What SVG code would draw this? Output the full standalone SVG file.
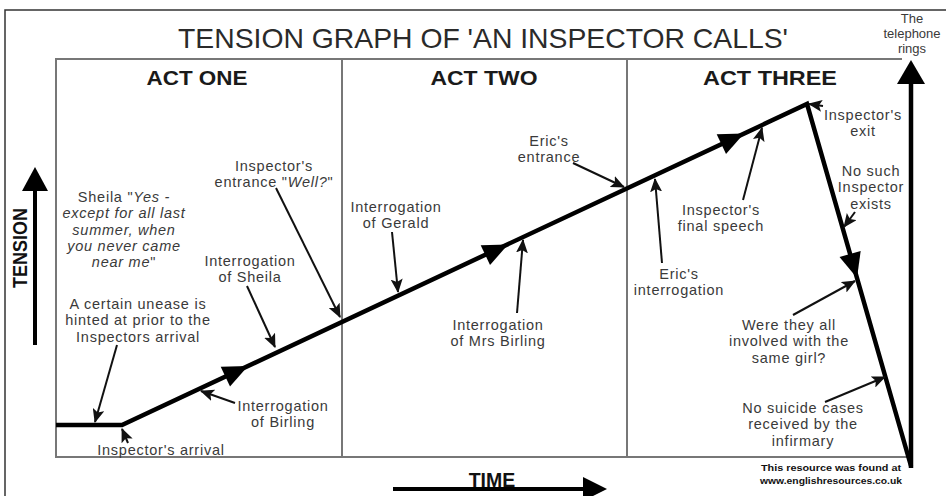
<svg xmlns="http://www.w3.org/2000/svg" width="946" height="496" viewBox="0 0 946 496">
<style>
.lbl{font-family:"Liberation Sans",Arial,sans-serif;font-size:14.5px;letter-spacing:0.75px;fill:#3a3a3a;text-anchor:middle}
.tel{font-family:"Liberation Sans",Arial,sans-serif;font-size:13px;fill:#3a3a3a;text-anchor:middle}
.it{font-style:italic}
.act{font-family:"Liberation Sans",Arial,sans-serif;font-size:21px;font-weight:bold;fill:#1a1a1a;text-anchor:middle}
.frame{fill:none;stroke:#777;stroke-width:2}
.main{fill:none;stroke:#000;stroke-width:4.5;stroke-linejoin:miter}
.ptr{fill:none;stroke:#111;stroke-width:2;marker-end:url(#ah)}
.head{fill:#000}
</style>
<defs>
<marker id="ah" markerUnits="userSpaceOnUse" markerWidth="14" markerHeight="12" viewBox="0 0 14 12" refX="13" refY="6" orient="auto">
<path d="M0,0 L14,6 L0,12 L3,6 Z" fill="#111"/>
</marker>
<path id="tri" d="M0,0 L-25,-11 L-25,11 Z"/>
</defs>
<rect width="946" height="496" fill="#fff"/>
<g id="outer-frame">
<rect x="5" y="10" width="960" height="500" fill="none" stroke="#333" stroke-width="1.5"/>
</g>
<g id="title">
<text x="483" y="48" font-family="'Liberation Sans',Arial,sans-serif" font-size="28" fill="#2a2a2a" text-anchor="middle" textLength="610" lengthAdjust="spacingAndGlyphs">TENSION GRAPH OF 'AN INSPECTOR CALLS'</text>
</g>
<g id="grid">
<path class="frame" d="M902,59 H56 V457 H911"/>
<line class="frame" x1="342" y1="59" x2="342" y2="457"/>
<line class="frame" x1="627" y1="59" x2="627" y2="457"/>
</g>
<g id="act-labels">
<text class="act" x="197" y="85" textLength="101" lengthAdjust="spacingAndGlyphs">ACT ONE</text>
<text class="act" x="484" y="85" textLength="107" lengthAdjust="spacingAndGlyphs">ACT TWO</text>
<text class="act" x="770" y="85" textLength="134" lengthAdjust="spacingAndGlyphs">ACT THREE</text>
</g>
<g id="tension-axis">
<line x1="35" y1="345" x2="35" y2="186" stroke="#000" stroke-width="4"/>
<path class="head" d="M35,167 L48,191 L22,191 Z"/>
<text transform="translate(27,248) rotate(-90)" font-family="'Liberation Sans',Arial,sans-serif" font-size="20" font-weight="bold" fill="#111" text-anchor="middle" textLength="80" lengthAdjust="spacingAndGlyphs">TENSION</text>
</g>
<g id="time-axis">
<line x1="393" y1="489" x2="586" y2="489" stroke="#000" stroke-width="4"/>
<path class="head" d="M607,489 L583,477 L583,501 Z"/>
<text x="492" y="487" font-family="'Liberation Sans',Arial,sans-serif" font-size="19.5" font-weight="bold" fill="#111" text-anchor="middle">TIME</text>
</g>
<g id="telephone">
<line x1="911" y1="468" x2="911" y2="80" stroke="#000" stroke-width="4.5"/>
<path class="head" d="M911,60 L925,84 L897,84 Z"/>
<text class="tel" x="912" y="23">The<tspan x="912" dy="15">telephone</tspan><tspan x="912" dy="15">rings</tspan></text>
</g>
<g id="tension-line">
<polyline class="main" points="56,425 122,425 807,104 911,466"/>
<use href="#tri" transform="translate(248,366) rotate(-25.1)"/>
<use href="#tri" transform="translate(508,244.5) rotate(-25.1)"/>
<use href="#tri" transform="translate(744,133.5) rotate(-25.1)"/>
<use href="#tri" transform="translate(857,278) rotate(74)"/>
</g>
<g id="connectors">
<line class="ptr" x1="117" y1="345" x2="95" y2="422"/>
<line class="ptr" x1="276" y1="188" x2="340" y2="317"/>
<line class="ptr" x1="247" y1="286" x2="275" y2="347"/>
<line class="ptr" x1="235" y1="403" x2="201" y2="391"/>
<line class="ptr" x1="128" y1="443" x2="122" y2="429"/>
<line class="ptr" x1="392" y1="232" x2="398" y2="292"/>
<line class="ptr" x1="517" y1="313" x2="523" y2="240"/>
<line class="ptr" x1="573" y1="163" x2="624" y2="187"/>
<line class="ptr" x1="662" y1="263" x2="655" y2="179"/>
<line class="ptr" x1="743" y1="200" x2="762" y2="128"/>
<line class="ptr" x1="823" y1="106" x2="809" y2="104"/>
<line class="ptr" x1="855" y1="212" x2="844" y2="227"/>
<line class="ptr" x1="793" y1="315" x2="855" y2="281"/>
<line class="ptr" x1="825" y1="402" x2="885" y2="377"/>
</g>
<g id="label-unease">
<text class="lbl" x="138" y="309">A certain unease is<tspan x="138" dy="16.3">hinted at prior to the</tspan><tspan x="138" dy="16.3">Inspectors arrival</tspan></text>
</g>
<g id="label-sheila-quote">
<text class="lbl" x="124" y="202">Sheila "<tspan class="it">Yes -</tspan><tspan class="it" x="124" dy="16.3">except for all last</tspan><tspan class="it" x="124" dy="16.3">summer, when</tspan><tspan class="it" x="124" dy="16.3">you never came</tspan><tspan x="124" dy="16.3"><tspan class="it">near me</tspan>"</tspan></text>
</g>
<g id="label-entrance">
<text class="lbl" x="274" y="171">Inspector's<tspan x="274" dy="16.3">entrance "<tspan class="it">Well?</tspan>"</tspan></text>
</g>
<g id="label-int-sheila">
<text class="lbl" x="250" y="266">Interrogation<tspan x="250" dy="16.3">of Sheila</tspan></text>
</g>
<g id="label-int-birling">
<text class="lbl" x="283" y="411">Interrogation<tspan x="283" dy="16.3">of Birling</tspan></text>
</g>
<g id="label-arrival">
<text class="lbl" x="161" y="455">Inspector's arrival</text>
</g>
<g id="label-int-gerald">
<text class="lbl" x="396" y="212">Interrogation<tspan x="396" dy="16.3">of Gerald</tspan></text>
</g>
<g id="label-int-mrs-birling">
<text class="lbl" x="498" y="330">Interrogation<tspan x="498" dy="16.3">of Mrs Birling</tspan></text>
</g>
<g id="label-eric-entrance">
<text class="lbl" x="549" y="146">Eric's<tspan x="549" dy="16.3">entrance</tspan></text>
</g>
<g id="label-eric-int">
<text class="lbl" x="679" y="279">Eric's<tspan x="679" dy="16.3">interrogation</tspan></text>
</g>
<g id="label-final-speech">
<text class="lbl" x="721" y="215">Inspector's<tspan x="721" dy="16.3">final speech</tspan></text>
</g>
<g id="label-exit">
<text class="lbl" x="863" y="120">Inspector's<tspan x="863" dy="16.3">exit</tspan></text>
</g>
<g id="label-no-inspector">
<text class="lbl" x="871" y="176">No such<tspan x="871" dy="16.3">Inspector</tspan><tspan x="871" dy="16.3">exists</tspan></text>
</g>
<g id="label-same-girl">
<text class="lbl" x="789" y="330">Were they all<tspan x="789" dy="16.3">involved with the</tspan><tspan x="789" dy="16.3">same girl?</tspan></text>
</g>
<g id="label-suicide">
<text class="lbl" x="803" y="413">No suicide cases<tspan x="803" dy="16.3">received by the</tspan><tspan x="803" dy="16.3">infirmary</tspan></text>
</g>
<g id="credit">
<text x="831" y="471" font-family="'Liberation Sans',Arial,sans-serif" font-size="9" font-weight="bold" fill="#111" text-anchor="middle" textLength="140" lengthAdjust="spacingAndGlyphs">This resource was found at</text>
<text x="831" y="484" font-family="'Liberation Sans',Arial,sans-serif" font-size="9" font-weight="bold" fill="#111" text-anchor="middle" textLength="142" lengthAdjust="spacingAndGlyphs">www.englishresources.co.uk</text>
</g>
</svg>
